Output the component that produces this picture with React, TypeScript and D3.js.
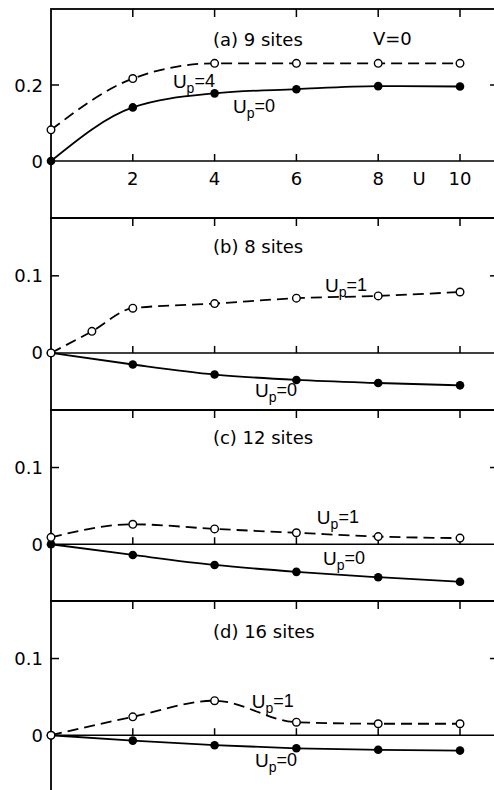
import React from 'react';
import * as d3 from 'd3';

// U values shared by most series
const U_VALUES = [0, 2, 4, 6, 8, 10];
const U_VALUES_B_UP1 = [0, 1, 2, 4, 6, 8, 10];
const X_TICKS = [2, 4, 6, 8, 10];

// (a) 9 sites
const A_UP0 = [0, 0.141, 0.178, 0.189, 0.197, 0.196];
const A_UP4 = [0.082, 0.217, 0.257, 0.257, 0.257, 0.257];
// (b) 8 sites
const B_UP1 = [0, 0.028, 0.058, 0.064, 0.071, 0.074, 0.079];
const B_UP0 = [0, -0.015, -0.028, -0.035, -0.039, -0.042];
// (c) 12 sites
const C_UP1 = [0.009, 0.026, 0.020, 0.015, 0.010, 0.008];
const C_UP0 = [0, -0.014, -0.027, -0.036, -0.043, -0.049];
// (d) 16 sites
const D_UP1 = [0, 0.024, 0.045, 0.017, 0.015, 0.015];
const D_UP0 = [0, -0.007, -0.013, -0.017, -0.019, -0.020];

const FONT = '"DejaVu Sans", "Liberation Sans", sans-serif';
const NARROW = '"Liberation Sans", Arial, sans-serif';

type Series = { xs: number[]; ys: number[]; dashed: boolean };
type Note = { main: string; sub?: string; rest?: string; u: number; v: number };
type Panel = {
  id: string;
  top: number;
  bottom: number;
  domain: [number, number];
  yTick: number;
  yTickLabel: string;
  series: Series[];
  notes: Note[];
  xLabels?: boolean;
};

const panels: Panel[] = [
  {
    id: 'a', top: 9, bottom: 218, domain: [-0.15, 0.4], yTick: 0.2, yTickLabel: '0.2', xLabels: true,
    series: [
      { xs: U_VALUES, ys: A_UP0, dashed: false },
      { xs: U_VALUES, ys: A_UP4, dashed: true },
    ],
    notes: [
      { main: '(a) 9 sites', u: 3.96, v: 0.303 },
      { main: 'V=0', u: 7.87, v: 0.305 },
      { main: 'U', sub: 'p', rest: '=4', u: 2.98, v: 0.192 },
      { main: 'U', sub: 'p', rest: '=0', u: 4.45, v: 0.126 },
    ],
  },
  {
    id: 'b', top: 218, bottom: 410, domain: [-0.074, 0.175], yTick: 0.1, yTickLabel: '0.1',
    series: [
      { xs: U_VALUES, ys: B_UP0, dashed: false },
      { xs: U_VALUES_B_UP1, ys: B_UP1, dashed: true },
    ],
    notes: [
      { main: '(b) 8 sites', u: 3.96, v: 0.13 },
      { main: 'U', sub: 'p', rest: '=1', u: 6.7, v: 0.079 },
      { main: 'U', sub: 'p', rest: '=0', u: 4.99, v: -0.057 },
    ],
  },
  {
    id: 'c', top: 410, bottom: 601, domain: [-0.074, 0.175], yTick: 0.1, yTickLabel: '0.1',
    series: [
      { xs: U_VALUES, ys: C_UP0, dashed: false },
      { xs: U_VALUES, ys: C_UP1, dashed: true },
    ],
    notes: [
      { main: '(c) 12 sites', u: 3.96, v: 0.131 },
      { main: 'U', sub: 'p', rest: '=1', u: 6.5, v: 0.027 },
      { main: 'U', sub: 'p', rest: '=0', u: 6.65, v: -0.027 },
    ],
  },
  {
    id: 'd', top: 601, bottom: 792, domain: [-0.074, 0.175], yTick: 0.1, yTickLabel: '0.1',
    series: [
      { xs: U_VALUES, ys: D_UP0, dashed: false },
      { xs: U_VALUES, ys: D_UP1, dashed: true },
    ],
    notes: [
      { main: '(d) 16 sites', u: 3.96, v: 0.127 },
      { main: 'U', sub: 'p', rest: '=1', u: 4.91, v: 0.035 },
      { main: 'U', sub: 'p', rest: '=0', u: 4.99, v: -0.042 },
    ],
  },
];

const width = 494;
const height = 790;
const X_MAX = 10.93; // the frame's right edge sits just outside the picture

export default function App() {
  const x = d3.scaleLinear([0, 10], [51, 460]);
  const xRight = x(X_MAX);

  return (
    <div style={{ position: 'absolute', left: 0, top: 0 }}>
      <svg width={width} height={height} style={{ display: 'block', background: '#fff' }} fontFamily={FONT}>
        {panels.map((p) => {
          const y = d3.scaleLinear(p.domain, [p.bottom, p.top]);
          const y0 = y(0);
          return (
            <g key={p.id}>
              {/* frame */}
              <rect x={x(0)} y={p.top} width={xRight - x(0)} height={p.bottom - p.top}
                fill="none" stroke="#000" strokeWidth={1.8} />
              {/* zero line */}
              <line x1={x(0)} x2={xRight} y1={y0} y2={y0} stroke="#000" strokeWidth={1.6} />
              {X_TICKS.map((t) => (
                <g key={t} stroke="#000" strokeWidth={1.5}>
                  <line x1={x(t)} x2={x(t)} y1={p.top} y2={p.top + 8} />
                  <line x1={x(t)} x2={x(t)} y1={y0} y2={y0 - 7} />
                </g>
              ))}
              <line x1={x(0)} x2={x(0) + 8} y1={y(p.yTick)} y2={y(p.yTick)} stroke="#000" strokeWidth={1.5} />
              <line x1={xRight} x2={xRight - 8} y1={y(p.yTick)} y2={y(p.yTick)} stroke="#000" strokeWidth={1.5} />
              <text x={43} y={y(p.yTick)} textAnchor="end" dominantBaseline="central" fontSize={18}>{p.yTickLabel}</text>
              <text x={43} y={y0} textAnchor="end" dominantBaseline="central" fontSize={18}>0</text>
              {p.xLabels && (
                <g fontSize={18} textAnchor="middle">
                  {X_TICKS.map((t) => (
                    <text key={t} x={x(t)} y={y0 + 24}>{t}</text>
                  ))}
                  <text x={x(9)} y={y0 + 24}>U</text>
                </g>
              )}
              {/* curves */}
              {p.series.map((s, i) => {
                const line = d3.line<number>()
                  .x((_, j) => x(s.xs[j]))
                  .y((v) => y(v))
                  .curve(d3.curveMonotoneX);
                return (
                  <path key={i} d={line(s.ys) ?? ''} fill="none" stroke="#000" strokeWidth={1.8}
                    strokeDasharray={s.dashed ? '11,6' : undefined} />
                );
              })}
              {p.series.filter((s) => !s.dashed).map((s, i) => (
                <g key={`f${i}`}>
                  {s.ys.map((v, j) => (
                    <circle key={j} cx={x(s.xs[j])} cy={y(v)} r={4.3} fill="#000" />
                  ))}
                </g>
              ))}
              {p.series.filter((s) => s.dashed).map((s, i) => (
                <g key={`o${i}`}>
                  {s.ys.map((v, j) => (
                    <circle key={j} cx={x(s.xs[j])} cy={y(v)} r={3.8} fill="#fff" stroke="#000" strokeWidth={1.4} />
                  ))}
                </g>
              ))}
              {p.notes.map((n, i) => (
                n.sub ? (
                  <text key={i} x={x(n.u)} y={y(n.v)} fontSize={19} fontFamily={NARROW}>
                    {n.main}
                    <tspan fontSize={14} dy={5}>{n.sub}</tspan>
                    <tspan fontSize={18} dy={-6}>{n.rest}</tspan>
                  </text>
                ) : (
                  <text key={i} x={x(n.u)} y={y(n.v)} fontSize={18}>{n.main}</text>
                )
              ))}
            </g>
          );
        })}
      </svg>
    </div>
  );
}
